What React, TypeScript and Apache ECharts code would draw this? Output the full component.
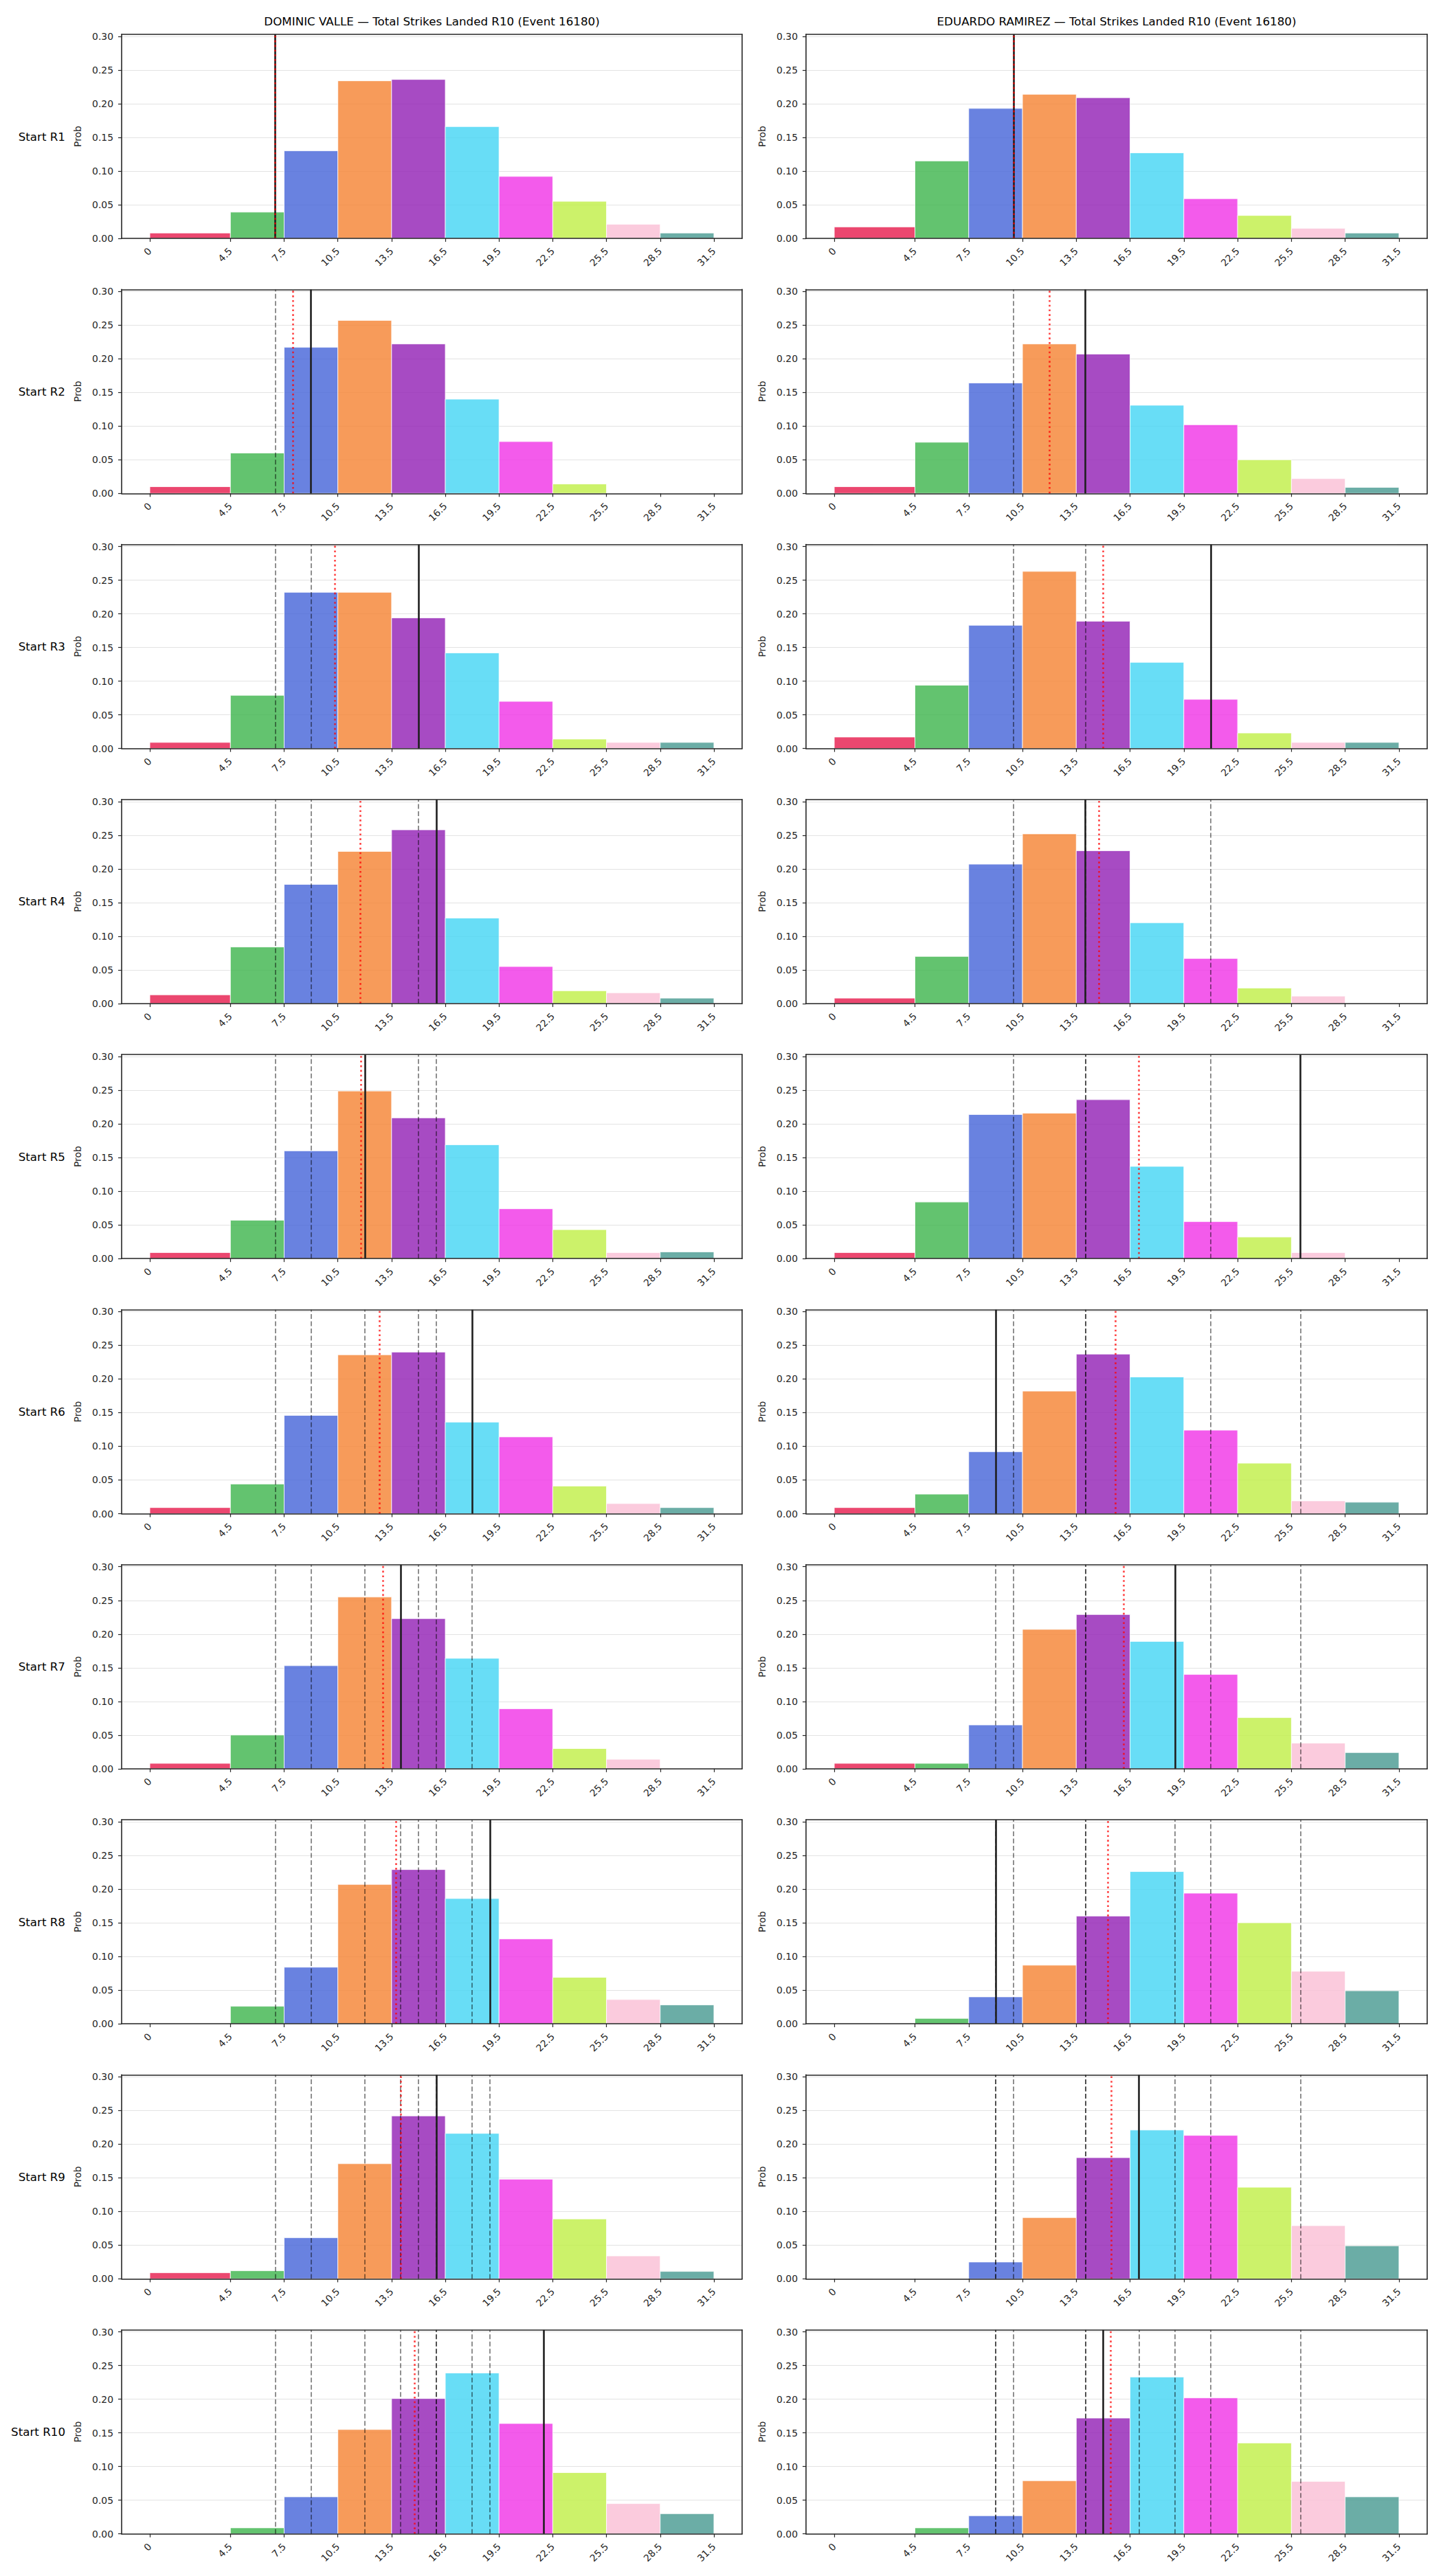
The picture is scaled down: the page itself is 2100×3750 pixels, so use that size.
import React, { useEffect, useRef } from "react";
import * as echarts from "echarts";

// ---- figure data -------------------------------------------------------

const FONT = '"DejaVu Sans", "Liberation Sans", sans-serif';

const fighterNames = ["DOMINIC VALLE", "EDUARDO RAMIREZ"];
const titleSuffix = " — Total Strikes Landed R10 (Event 16180)";

// histogram bin edges (strikes landed)
const binEdges = [0, 4.5, 7.5, 10.5, 13.5, 16.5, 19.5, 22.5, 25.5, 28.5, 31.5];
const yTicks = [0, 0.05, 0.1, 0.15, 0.2, 0.25, 0.3];

const roundLabels = [
  "Start R1", "Start R2", "Start R3", "Start R4", "Start R5",
  "Start R6", "Start R7", "Start R8", "Start R9", "Start R10",
];

const binColors = [
  "#e6194B", "#3cb44b", "#4363d8", "#f58231", "#911eb4",
  "#42d4f4", "#f032e6", "#bfef45", "#fabed4", "#469990",
];

// probability per bin, one row per starting round
const valleProbs = [
  [0.008, 0.039, 0.130, 0.234, 0.236, 0.166, 0.092, 0.055, 0.021, 0.008],
  [0.010, 0.060, 0.217, 0.257, 0.222, 0.140, 0.077, 0.014, 0.000, 0.000],
  [0.009, 0.079, 0.232, 0.232, 0.194, 0.142, 0.070, 0.014, 0.009, 0.009],
  [0.013, 0.084, 0.177, 0.226, 0.258, 0.127, 0.055, 0.019, 0.016, 0.008],
  [0.009, 0.057, 0.160, 0.249, 0.209, 0.169, 0.074, 0.043, 0.009, 0.010],
  [0.009, 0.044, 0.146, 0.236, 0.240, 0.136, 0.114, 0.041, 0.015, 0.009],
  [0.008, 0.050, 0.153, 0.255, 0.223, 0.164, 0.089, 0.030, 0.014, 0.000],
  [0.000, 0.026, 0.084, 0.207, 0.229, 0.186, 0.126, 0.069, 0.036, 0.028],
  [0.009, 0.012, 0.061, 0.171, 0.242, 0.216, 0.148, 0.089, 0.034, 0.011],
  [0.000, 0.009, 0.055, 0.155, 0.201, 0.239, 0.164, 0.091, 0.045, 0.030],
];

const ramirezProbs = [
  [0.017, 0.115, 0.193, 0.214, 0.209, 0.127, 0.059, 0.034, 0.015, 0.008],
  [0.010, 0.076, 0.164, 0.222, 0.207, 0.131, 0.102, 0.050, 0.022, 0.009],
  [0.017, 0.094, 0.183, 0.263, 0.189, 0.128, 0.073, 0.023, 0.009, 0.009],
  [0.008, 0.070, 0.207, 0.252, 0.227, 0.120, 0.067, 0.023, 0.011, 0.000],
  [0.009, 0.084, 0.214, 0.216, 0.236, 0.137, 0.055, 0.032, 0.009, 0.000],
  [0.009, 0.029, 0.092, 0.182, 0.237, 0.203, 0.124, 0.075, 0.019, 0.017],
  [0.008, 0.008, 0.065, 0.207, 0.229, 0.189, 0.140, 0.076, 0.038, 0.024],
  [0.000, 0.008, 0.040, 0.087, 0.160, 0.226, 0.194, 0.150, 0.078, 0.049],
  [0.000, 0.000, 0.025, 0.091, 0.180, 0.221, 0.213, 0.136, 0.079, 0.049],
  [0.000, 0.009, 0.027, 0.079, 0.172, 0.233, 0.202, 0.135, 0.078, 0.055],
];

// projected total for each round (solid line; earlier rounds shown dashed)
const valleProjection = [7, 9, 15, 16, 12, 18, 14, 19, 16, 22];
const ramirezProjection = [10, 14, 21, 14, 26, 9, 19, 9, 17, 15];

// running mean of projections (dotted red line)
const valleRunningMean = [7, 8, 10.33, 11.75, 11.8, 12.83, 13, 13.75, 14, 14.8];
const ramirezRunningMean = [10, 12, 15, 14.75, 17, 15.67, 16.14, 15.25, 15.44, 15.4];

// ---- layout --------------------------------------------------------------

const WIDTH = 2100;
const HEIGHT = 3750;
const X_MIN = -1.575;
const X_MAX = 33.075;
const Y_MAX = 0.303;
const COL_LEFT = [177, 1173];
const COL_WIDTH = [903, 904];
const ROW_TOP = 50;
const ROW_STEP = 371.3;
const ROW_HEIGHT = 297;
const SPINE = "#262626";

function fmtEdge(v: number) {
  return v === 0 ? "0" : v.toFixed(1);
}

function buildOption() {
  const grid: any[] = [];
  const xAxis: any[] = [];
  const yAxis: any[] = [];
  const series: any[] = [];
  const graphic: any[] = [];

  const panels = [
    { probs: valleProbs, proj: valleProjection, mean: valleRunningMean },
    { probs: ramirezProbs, proj: ramirezProjection, mean: ramirezRunningMean },
  ];

  for (let col = 0; col < 2; col++) {
    graphic.push({
      type: "text",
      x: COL_LEFT[col] + COL_WIDTH[col] / 2,
      y: 31,
      silent: true,
      style: {
        text: fighterNames[col] + titleSuffix,
        fill: "#000",
        font: `16.7px ${FONT}`,
        textAlign: "center",
        textVerticalAlign: "middle",
      },
    });

    for (let r = 0; r < 10; r++) {
      const gi = grid.length;
      const top = ROW_TOP + r * ROW_STEP;
      grid.push({
        left: COL_LEFT[col],
        top,
        width: COL_WIDTH[col],
        height: ROW_HEIGHT,
        containLabel: false,
      });

      if (col === 0) {
        graphic.push({
          type: "text",
          x: 95,
          y: top + ROW_HEIGHT / 2,
          silent: true,
          style: {
            text: roundLabels[r],
            fill: "#000",
            font: `16.7px ${FONT}`,
            textAlign: "right",
            textVerticalAlign: "middle",
          },
        });
      }

      // bottom axis with bin-edge ticks
      xAxis.push({
        gridIndex: gi,
        type: "value",
        min: X_MIN,
        max: X_MAX,
        position: "bottom",
        z: 10,
        axisLine: { show: true, onZero: false, lineStyle: { color: SPINE, width: 1.6 } },
        axisTick: {
          show: true,
          customValues: binEdges,
          length: 5,
          lineStyle: { color: SPINE, width: 1.2 },
        },
        axisLabel: {
          show: true,
          customValues: binEdges,
          formatter: (v: number) => fmtEdge(v),
          rotate: 45,
          margin: 16,
          fontSize: 13.9,
          fontFamily: FONT,
          color: "#262626",
        },
        splitLine: { show: false },
      });
      // top spine
      xAxis.push({
        gridIndex: gi,
        type: "value",
        min: X_MIN,
        max: X_MAX,
        position: "top",
        z: 10,
        axisLine: { show: true, onZero: false, lineStyle: { color: SPINE, width: 1.6 } },
        axisTick: { show: false },
        axisLabel: { show: false },
        splitLine: { show: false },
      });
      // left axis with grid lines
      yAxis.push({
        gridIndex: gi,
        type: "value",
        min: 0,
        max: Y_MAX,
        position: "left",
        name: "Prob",
        nameLocation: "middle",
        nameGap: 57,
        nameTextStyle: { fontSize: 13.9, fontFamily: FONT, color: "#262626" },
        axisLine: { show: true, onZero: false, lineStyle: { color: SPINE, width: 1.6 } },
        axisTick: {
          show: true,
          customValues: yTicks,
          length: 5,
          lineStyle: { color: SPINE, width: 1.2 },
        },
        axisLabel: {
          show: true,
          customValues: yTicks,
          formatter: (v: number) => v.toFixed(2),
          margin: 12,
          fontSize: 13.9,
          fontFamily: FONT,
          color: "#262626",
        },
        splitLine: { show: true, lineStyle: { color: "#e3e3e3", width: 1.2 } },
      });
      // right spine
      yAxis.push({
        gridIndex: gi,
        type: "value",
        min: 0,
        max: Y_MAX,
        position: "right",
        z: 10,
        axisLine: { show: true, onZero: false, lineStyle: { color: SPINE, width: 1.6 } },
        axisTick: { show: false },
        axisLabel: { show: false },
        splitLine: { show: false },
      });

      const p = panels[col];
      const bins = p.probs[r]
        .map((prob, i) => [binEdges[i], binEdges[i + 1], prob, i])
        .filter((d) => d[2] > 0);

      const lines: any[] = [];
      for (let k = 0; k < r; k++) {
        lines.push({
          xAxis: p.proj[k],
          lineStyle: { color: "rgba(0,0,0,0.55)", type: [7, 3.5], width: 1.6 },
        });
      }
      lines.push({
        xAxis: p.proj[r],
        lineStyle: { color: "#1f1f1f", type: "solid", width: 2.6 },
      });
      lines.push({
        xAxis: p.mean[r],
        lineStyle: { color: "rgba(255,0,0,0.75)", type: [2.6, 4.2], width: 2.6 },
      });

      series.push({
        type: "custom",
        xAxisIndex: 2 * gi,
        yAxisIndex: 2 * gi,
        data: bins,
        encode: { x: [0, 1], y: 2 },
        clip: true,
        renderItem: (_params: any, api: any) => {
          const x0 = api.value(0);
          const x1 = api.value(1);
          const prob = api.value(2);
          const ci = api.value(3);
          const a = api.coord([x0, prob]);
          const b = api.coord([x1, 0]);
          return {
            type: "rect",
            shape: { x: a[0], y: a[1], width: b[0] - a[0], height: b[1] - a[1] },
            style: { fill: binColors[ci], opacity: 0.8, stroke: "#ffffff", lineWidth: 1 },
          };
        },
        markLine: {
          silent: true,
          symbol: ["none", "none"],
          label: { show: false },
          emphasis: { disabled: true },
          data: lines,
        },
      });
    }
  }

  return {
    animation: false,
    backgroundColor: "#ffffff",
    grid,
    xAxis,
    yAxis,
    series,
    graphic,
  };
}

export default function App() {
  const ref = useRef<HTMLDivElement>(null);

  useEffect(() => {
    if (!ref.current) return;
    const chart = echarts.init(ref.current, undefined, { renderer: "svg" });
    chart.setOption(buildOption() as any);
    return () => {
      chart.dispose();
    };
  }, []);

  return (
    <div
      ref={ref}
      style={{
        position: "absolute",
        left: 0,
        top: 0,
        width: WIDTH,
        height: HEIGHT,
        background: "#ffffff",
      }}
    />
  );
}
